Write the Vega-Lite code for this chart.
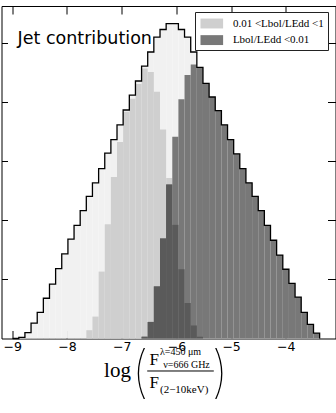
{
  "$schema": "https://vega.github.io/schema/vega-lite/v6.json",
  "width": 334,
  "height": 332.5,
  "autosize": {"type": "none"},
  "padding": {"left": 1.5, "top": 6, "right": 0.5, "bottom": 74.5},
  "background": "white",
  "config": {
    "view": {"stroke": "black", "strokeWidth": 1},
    "axis": {"grid": false, "domain": false}
  },
  "datasets": {
    "hist": [
      {"series": "All", "x0": -8.992, "x1": -8.880, "n": 0},
      {"series": "All", "x0": -8.880, "x1": -8.768, "n": 0.02},
      {"series": "All", "x0": -8.768, "x1": -8.656, "n": 0.10},
      {"series": "All", "x0": -8.656, "x1": -8.543, "n": 0.26},
      {"series": "All", "x0": -8.543, "x1": -8.431, "n": 0.44},
      {"series": "All", "x0": -8.431, "x1": -8.319, "n": 0.68},
      {"series": "All", "x0": -8.319, "x1": -8.207, "n": 0.92},
      {"series": "All", "x0": -8.207, "x1": -8.095, "n": 1.18},
      {"series": "All", "x0": -8.095, "x1": -7.982, "n": 1.43},
      {"series": "All", "x0": -7.982, "x1": -7.870, "n": 1.68},
      {"series": "All", "x0": -7.870, "x1": -7.758, "n": 1.91},
      {"series": "All", "x0": -7.758, "x1": -7.646, "n": 2.16},
      {"series": "All", "x0": -7.646, "x1": -7.534, "n": 2.40},
      {"series": "All", "x0": -7.534, "x1": -7.421, "n": 2.63},
      {"series": "All", "x0": -7.421, "x1": -7.309, "n": 2.87},
      {"series": "All", "x0": -7.309, "x1": -7.197, "n": 3.13},
      {"series": "All", "x0": -7.197, "x1": -7.085, "n": 3.36},
      {"series": "All", "x0": -7.085, "x1": -6.973, "n": 3.61},
      {"series": "All", "x0": -6.973, "x1": -6.860, "n": 3.86},
      {"series": "All", "x0": -6.860, "x1": -6.748, "n": 4.11},
      {"series": "All", "x0": -6.748, "x1": -6.636, "n": 4.35},
      {"series": "All", "x0": -6.636, "x1": -6.524, "n": 4.60},
      {"series": "All", "x0": -6.524, "x1": -6.412, "n": 4.84},
      {"series": "All", "x0": -6.412, "x1": -6.299, "n": 5.09},
      {"series": "All", "x0": -6.299, "x1": -6.187, "n": 5.22},
      {"series": "All", "x0": -6.187, "x1": -6.075, "n": 5.32},
      {"series": "All", "x0": -6.075, "x1": -5.963, "n": 5.32},
      {"series": "All", "x0": -5.963, "x1": -5.851, "n": 5.22},
      {"series": "All", "x0": -5.851, "x1": -5.738, "n": 5.09},
      {"series": "All", "x0": -5.738, "x1": -5.626, "n": 4.84},
      {"series": "All", "x0": -5.626, "x1": -5.514, "n": 4.58},
      {"series": "All", "x0": -5.514, "x1": -5.402, "n": 4.31},
      {"series": "All", "x0": -5.402, "x1": -5.290, "n": 4.08},
      {"series": "All", "x0": -5.290, "x1": -5.177, "n": 3.85},
      {"series": "All", "x0": -5.177, "x1": -5.065, "n": 3.61},
      {"series": "All", "x0": -5.065, "x1": -4.953, "n": 3.36},
      {"series": "All", "x0": -4.953, "x1": -4.841, "n": 3.12},
      {"series": "All", "x0": -4.841, "x1": -4.729, "n": 2.87},
      {"series": "All", "x0": -4.729, "x1": -4.616, "n": 2.63},
      {"series": "All", "x0": -4.616, "x1": -4.504, "n": 2.40},
      {"series": "All", "x0": -4.504, "x1": -4.392, "n": 2.16},
      {"series": "All", "x0": -4.392, "x1": -4.280, "n": 1.91},
      {"series": "All", "x0": -4.280, "x1": -4.168, "n": 1.66},
      {"series": "All", "x0": -4.168, "x1": -4.055, "n": 1.41},
      {"series": "All", "x0": -4.055, "x1": -3.943, "n": 1.17},
      {"series": "All", "x0": -3.943, "x1": -3.831, "n": 0.93},
      {"series": "All", "x0": -3.831, "x1": -3.719, "n": 0.70},
      {"series": "All", "x0": -3.719, "x1": -3.607, "n": 0.44},
      {"series": "All", "x0": -3.607, "x1": -3.494, "n": 0.24},
      {"series": "All", "x0": -3.494, "x1": -3.382, "n": 0.09},
      {"series": "All", "x0": -3.382, "x1": -3.270, "n": 0},
      {"series": "0.01 <Lbol/LEdd <1", "x0": -7.646, "x1": -7.534, "n": 0.14},
      {"series": "0.01 <Lbol/LEdd <1", "x0": -7.534, "x1": -7.421, "n": 0.37},
      {"series": "0.01 <Lbol/LEdd <1", "x0": -7.421, "x1": -7.309, "n": 1.13},
      {"series": "0.01 <Lbol/LEdd <1", "x0": -7.309, "x1": -7.197, "n": 1.93},
      {"series": "0.01 <Lbol/LEdd <1", "x0": -7.197, "x1": -7.085, "n": 2.73},
      {"series": "0.01 <Lbol/LEdd <1", "x0": -7.085, "x1": -6.973, "n": 3.32},
      {"series": "0.01 <Lbol/LEdd <1", "x0": -6.973, "x1": -6.860, "n": 3.83},
      {"series": "0.01 <Lbol/LEdd <1", "x0": -6.860, "x1": -6.748, "n": 4.05},
      {"series": "0.01 <Lbol/LEdd <1", "x0": -6.748, "x1": -6.636, "n": 4.30},
      {"series": "0.01 <Lbol/LEdd <1", "x0": -6.636, "x1": -6.524, "n": 4.56},
      {"series": "0.01 <Lbol/LEdd <1", "x0": -6.524, "x1": -6.412, "n": 4.50},
      {"series": "0.01 <Lbol/LEdd <1", "x0": -6.412, "x1": -6.299, "n": 4.17},
      {"series": "0.01 <Lbol/LEdd <1", "x0": -6.299, "x1": -6.187, "n": 3.53},
      {"series": "0.01 <Lbol/LEdd <1", "x0": -6.187, "x1": -6.075, "n": 2.71},
      {"series": "0.01 <Lbol/LEdd <1", "x0": -6.075, "x1": -5.963, "n": 1.92},
      {"series": "0.01 <Lbol/LEdd <1", "x0": -5.963, "x1": -5.851, "n": 1.17},
      {"series": "0.01 <Lbol/LEdd <1", "x0": -5.851, "x1": -5.738, "n": 0.60},
      {"series": "0.01 <Lbol/LEdd <1", "x0": -5.738, "x1": -5.626, "n": 0.22},
      {"series": "0.01 <Lbol/LEdd <1", "x0": -5.626, "x1": -5.514, "n": 0.03},
      {"series": "Lbol/LEdd <0.01", "x0": -6.636, "x1": -6.524, "n": 0.03},
      {"series": "Lbol/LEdd <0.01", "x0": -6.524, "x1": -6.412, "n": 0.28},
      {"series": "Lbol/LEdd <0.01", "x0": -6.412, "x1": -6.299, "n": 0.88},
      {"series": "Lbol/LEdd <0.01", "x0": -6.299, "x1": -6.187, "n": 1.69},
      {"series": "Lbol/LEdd <0.01", "x0": -6.187, "x1": -6.075, "n": 2.60},
      {"series": "Lbol/LEdd <0.01", "x0": -6.075, "x1": -5.963, "n": 3.41},
      {"series": "Lbol/LEdd <0.01", "x0": -5.963, "x1": -5.851, "n": 4.04},
      {"series": "Lbol/LEdd <0.01", "x0": -5.851, "x1": -5.738, "n": 4.45},
      {"series": "Lbol/LEdd <0.01", "x0": -5.738, "x1": -5.626, "n": 4.63},
      {"series": "Lbol/LEdd <0.01", "x0": -5.626, "x1": -5.514, "n": 4.58},
      {"series": "Lbol/LEdd <0.01", "x0": -5.514, "x1": -5.402, "n": 4.31},
      {"series": "Lbol/LEdd <0.01", "x0": -5.402, "x1": -5.290, "n": 4.08},
      {"series": "Lbol/LEdd <0.01", "x0": -5.290, "x1": -5.177, "n": 3.85},
      {"series": "Lbol/LEdd <0.01", "x0": -5.177, "x1": -5.065, "n": 3.61},
      {"series": "Lbol/LEdd <0.01", "x0": -5.065, "x1": -4.953, "n": 3.36},
      {"series": "Lbol/LEdd <0.01", "x0": -4.953, "x1": -4.841, "n": 3.12},
      {"series": "Lbol/LEdd <0.01", "x0": -4.841, "x1": -4.729, "n": 2.87},
      {"series": "Lbol/LEdd <0.01", "x0": -4.729, "x1": -4.616, "n": 2.63},
      {"series": "Lbol/LEdd <0.01", "x0": -4.616, "x1": -4.504, "n": 2.40},
      {"series": "Lbol/LEdd <0.01", "x0": -4.504, "x1": -4.392, "n": 2.16},
      {"series": "Lbol/LEdd <0.01", "x0": -4.392, "x1": -4.280, "n": 1.91},
      {"series": "Lbol/LEdd <0.01", "x0": -4.280, "x1": -4.168, "n": 1.66},
      {"series": "Lbol/LEdd <0.01", "x0": -4.168, "x1": -4.055, "n": 1.41},
      {"series": "Lbol/LEdd <0.01", "x0": -4.055, "x1": -3.943, "n": 1.17},
      {"series": "Lbol/LEdd <0.01", "x0": -3.943, "x1": -3.831, "n": 0.93},
      {"series": "Lbol/LEdd <0.01", "x0": -3.831, "x1": -3.719, "n": 0.70},
      {"series": "Lbol/LEdd <0.01", "x0": -3.719, "x1": -3.607, "n": 0.44},
      {"series": "Lbol/LEdd <0.01", "x0": -3.607, "x1": -3.494, "n": 0.24},
      {"series": "Lbol/LEdd <0.01", "x0": -3.494, "x1": -3.382, "n": 0.09}
    ]
  },
  "data": {"name": "hist"},
  "resolve": {"axis": {"x": "independent", "y": "independent"}},
  "layer": [
    {
      "transform": [{"filter": "datum.series == 'All'"}],
      "mark": {"type": "rect", "fill": "#f1f1f1"},
      "encoding": {
        "x": {
          "field": "x0", "type": "quantitative",
          "scale": {"domain": [-9.196, -3.092], "nice": false, "zero": false},
          "axis": {
            "orient": "bottom", "values": [-9, -8, -7, -6, -5, -4],
            "tickSize": -8, "tickColor": "black", "tickWidth": 1,
            "labelFont": "DejaVu Sans", "labelFontSize": 12.5, "labelColor": "black",
            "labelPadding": 10, "labelFlush": false,
            "title": "log", "titleFont": "Liberation Serif", "titleFontSize": 21,
            "titleFontWeight": "normal", "titleColor": "black",
            "titleX": 115.5, "titleY": 38.2, "titleAlign": "center", "titleBaseline": "alphabetic"
          }
        },
        "x2": {"field": "x1"},
        "y": {
          "field": "n", "type": "quantitative",
          "scale": {"domain": [0, 5.617], "nice": false, "zero": false},
          "axis": {
            "orient": "left", "values": [1, 2, 3, 4, 5], "labels": false,
            "tickSize": -6, "tickColor": "black", "tickWidth": 1, "title": null
          }
        },
        "y2": {"datum": 0}
      }
    },
    {
      "transform": [{"filter": "datum.series != 'All'"}],
      "mark": {"type": "rect"},
      "encoding": {
        "x": {"field": "x0", "type": "quantitative", "axis": null},
        "x2": {"field": "x1"},
        "y": {"field": "n", "type": "quantitative", "axis": null},
        "y2": {"datum": 0},
        "color": {
          "field": "series", "type": "nominal",
          "scale": {"domain": ["0.01 <Lbol/LEdd <1", "Lbol/LEdd <0.01"], "range": ["#cfcfcf", "#787878"]},
          "legend": {
            "orient": "none", "legendX": 193.5, "legendY": 6, "title": null,
            "labelFont": "Liberation Serif", "labelFontSize": 11, "labelColor": "black",
            "symbolType": "M-1.6,-0.7L1.6,-0.7L1.6,0.7L-1.6,0.7Z", "symbolSize": 200,
            "symbolOffset": 5.3, "symbolStrokeWidth": 0, "symbolOpacity": 1,
            "strokeColor": "#222222", "fillColor": "white", "padding": 4,
            "rowPadding": 3.6, "labelOffset": 13.6, "cornerRadius": 0
          }
        }
      }
    },
    {
      "transform": [
        {"filter": "datum.series != 'All'"},
        {"aggregate": [{"op": "min", "field": "n", "as": "n"}, {"op": "count", "as": "c"}], "groupby": ["x0", "x1"]},
        {"filter": "datum.c == 2"}
      ],
      "mark": {"type": "rect", "fill": "#5a5a5a"},
      "encoding": {
        "x": {"field": "x0", "type": "quantitative", "axis": null},
        "x2": {"field": "x1"},
        "y": {"field": "n", "type": "quantitative", "axis": null},
        "y2": {"datum": 0}
      }
    },
    {
      "transform": [{"filter": "datum.series == 'All'"}],
      "mark": {"type": "line", "interpolate": "step-after", "stroke": "black", "strokeWidth": 1.3},
      "encoding": {
        "x": {
          "field": "x0", "type": "quantitative",
          "axis": {"orient": "top", "values": [-9, -8, -7, -6, -5, -4], "labels": false,
                   "tickSize": -8, "tickColor": "black", "tickWidth": 1, "title": null}
        },
        "y": {
          "field": "n", "type": "quantitative",
          "axis": {"orient": "right", "values": [1, 2, 3, 4, 5], "labels": false,
                   "tickSize": -8, "tickColor": "black", "tickWidth": 1, "title": null}
        }
      }
    },
    {
      "data": {"values": [{}]},
      "mark": {"type": "text", "text": "Jet contribution", "font": "DejaVu Sans", "fontSize": 17.5, "align": "left", "baseline": "alphabetic", "color": "black"},
      "encoding": {
        "x": {"datum": -8.903, "type": "quantitative", "axis": null},
        "y": {"datum": 4.97, "type": "quantitative", "axis": null}
      }
    },
    {
      "data": {"values": [{}]},
      "mark": {"type": "text", "text": "(", "font": "Inter", "fontWeight": 100, "fontSize": 56, "align": "center", "baseline": "middle", "color": "black"},
      "encoding": {
        "x": {"datum": -6.665, "type": "quantitative", "axis": null},
        "y": {"datum": -0.6, "type": "quantitative", "axis": null}
      }
    },
    {
      "data": {"values": [{}]},
      "mark": {"type": "text", "text": ")", "font": "Inter", "fontWeight": 100, "fontSize": 56, "align": "center", "baseline": "middle", "color": "black"},
      "encoding": {
        "x": {"datum": -5.2, "type": "quantitative", "axis": null},
        "y": {"datum": -0.6, "type": "quantitative", "axis": null}
      }
    },
    {
      "data": {"values": [{}]},
      "mark": {"type": "text", "text": "F", "font": "Liberation Serif", "fontSize": 17, "align": "left", "baseline": "alphabetic", "color": "black"},
      "encoding": {
        "x": {"datum": -6.49, "type": "quantitative", "axis": null},
        "y": {"datum": -0.448, "type": "quantitative", "axis": null}
      }
    },
    {
      "data": {"values": [{}]},
      "mark": {"type": "text", "text": "F", "font": "Liberation Serif", "fontSize": 17, "align": "left", "baseline": "alphabetic", "color": "black"},
      "encoding": {
        "x": {"datum": -6.49, "type": "quantitative", "axis": null},
        "y": {"datum": -0.841, "type": "quantitative", "axis": null}
      }
    },
    {
      "data": {"values": [{}]},
      "mark": {"type": "text", "text": "λ=450 μm", "font": "Liberation Serif", "fontSize": 10, "align": "left", "baseline": "alphabetic", "color": "black"},
      "encoding": {
        "x": {"datum": -6.3, "type": "quantitative", "axis": null},
        "y": {"datum": -0.285, "type": "quantitative", "axis": null}
      }
    },
    {
      "data": {"values": [{}]},
      "mark": {"type": "text", "text": "ν=666 GHz", "font": "Liberation Serif", "fontSize": 10, "align": "left", "baseline": "alphabetic", "color": "black"},
      "encoding": {
        "x": {"datum": -6.24, "type": "quantitative", "axis": null},
        "y": {"datum": -0.49, "type": "quantitative", "axis": null}
      }
    },
    {
      "data": {"values": [{}]},
      "mark": {"type": "text", "text": "(2−10keV)", "font": "Liberation Serif", "fontSize": 11, "align": "left", "baseline": "alphabetic", "color": "black"},
      "encoding": {
        "x": {"datum": -6.3, "type": "quantitative", "axis": null},
        "y": {"datum": -0.929, "type": "quantitative", "axis": null}
      }
    },
    {
      "data": {"values": [{}]},
      "mark": {"type": "rule", "color": "black", "strokeWidth": 1},
      "encoding": {
        "x": {"datum": -6.533, "type": "quantitative", "axis": null},
        "x2": {"datum": -5.316},
        "y": {"datum": -0.549, "type": "quantitative", "axis": null}
      }
    }
  ]
}
